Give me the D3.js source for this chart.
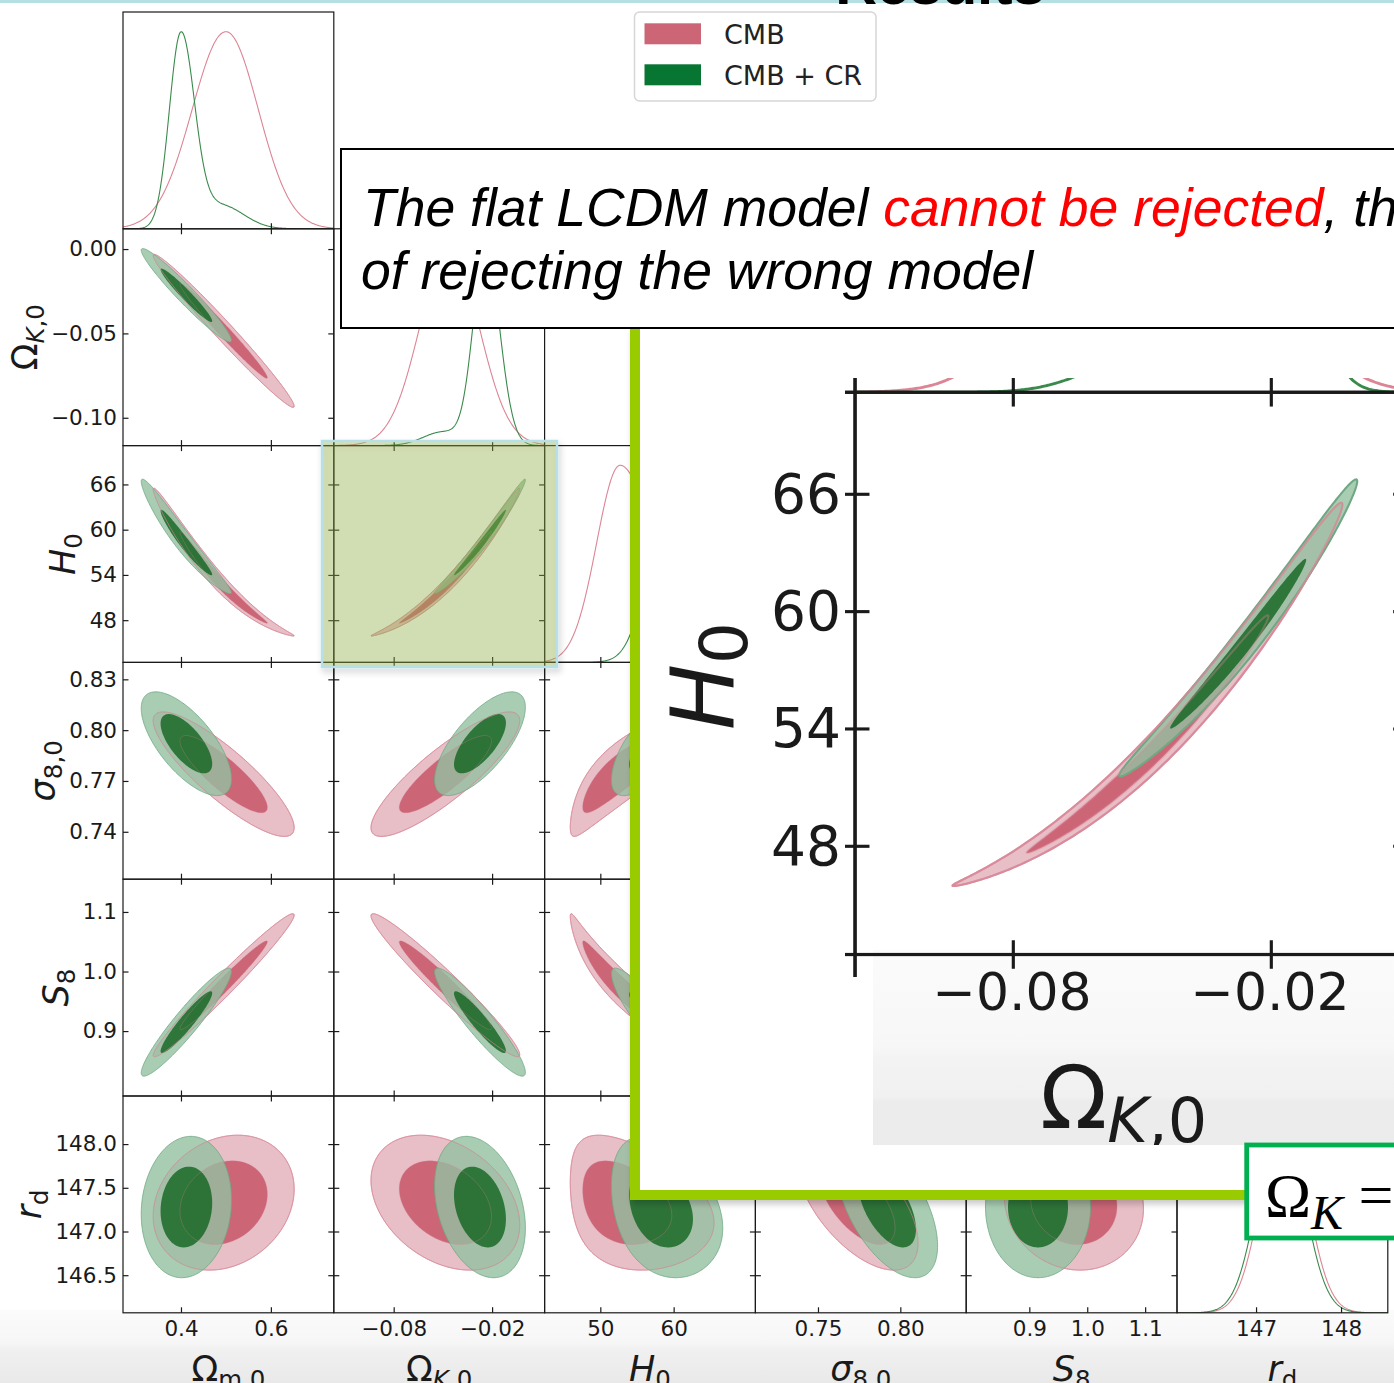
<!DOCTYPE html>
<html>
<head>
<meta charset="utf-8">
<script src="https://cdn.jsdelivr.net/npm/d3@7"></script>
<style>
  body { margin: 0; background: #fff; }
  svg { display: block; }
</style>
</head>
<body>
<svg id="chart"></svg>
<script>
const width = 1394, height = 1383;

// parameters of the triangle plot, in plotting order
const paramNames = ['Omega_m0', 'Omega_K0', 'H0', 'sigma8_0', 'S8', 'r_d'];
const limits = [[0.271, 0.740], [-0.1165, 0.012], [42.4, 71.15], [0.712, 0.840], [0.791, 1.155], [146.07, 148.55]];
const xTickValues = [[0.4, 0.6], [-0.08, -0.02], [50, 60], [0.75, 0.80], [0.9, 1.0, 1.1], [147, 148]];
const yTickValues = [[], [0.00, -0.05, -0.10], [66, 60, 54, 48], [0.83, 0.80, 0.77, 0.74], [1.1, 1.0, 0.9], [148.0, 147.5, 147.0, 146.5]];
const xTickFormats = ['.1f', '.2f', 'd', '.2f', '.1f', 'd'];
const yTickFormats = ['.1f', '.2f', 'd', '.2f', '.1f', '.1f'];
const labelMain = ['Ω', 'Ω', 'H', 'σ', 'S', 'r'];
const labelSub = ['m,0', 'K,0', '0', '8,0', '8', 'd'];

// chains
const chainNames = ['CMB', 'CMB + CR'];
const cmbMean = [0.495, -0.0485, 52.4, 0.774, 0.977, 147.33];
const cmbSd = [0.064, 0.0185, 4.0, 0.015, 0.049, 0.315];
const cmbCurv = [0, 0, 0.55, 0, 0, 0];
const cmbCorr = [
  [1, -0.985, -0.99, -0.86, 0.98, 0.2],
  [-0.985, 1, 0.994, 0.86, -0.97, -0.33],
  [-0.99, 0.994, 1, 0.85, -0.96, -0.3],
  [-0.86, 0.86, 0.85, 1, -0.75, -0.6],
  [0.98, -0.97, -0.96, -0.75, 1, -0.09],
  [0.2, -0.33, -0.3, -0.6, -0.09, 1]
];
const crMean = [0.412, -0.0274, 57.9, 0.792, 0.915, 147.28];
const crSd = [0.041, 0.0113, 3.1, 0.0125, 0.037, 0.33];
const crCurv = [0, 0, 0.2, 0, 0, 0];
const crCorr = [
  [1, -0.965, -0.97, -0.68, 0.94, 0.1],
  [-0.965, 1, 0.99, 0.7, -0.93, -0.3],
  [-0.97, 0.99, 1, 0.7, -0.9, -0.3],
  [-0.68, 0.7, 0.7, 1, -0.4, -0.55],
  [0.94, -0.93, -0.9, -0.4, 1, 0.0],
  [0.1, -0.3, -0.3, -0.55, 0.0, 1]
];
// 1D marginals: components [weight, mode, sdLeft, sdRight]
const cmbMarg = [
  [[1, 0.50, 0.075, 0.072]],
  [[1, -0.046, 0.018, 0.018]],
  [[1, 52.7, 3.2, 4.6]],
  [[1, 0.774, 0.015, 0.015]],
  [[1, 0.977, 0.049, 0.049]],
  [[1, 147.33, 0.265, 0.265]]
];
const crMarg = [
  [[1, 0.40, 0.026, 0.030], [0.12, 0.49, 0.045, 0.05]],
  [[1, -0.024, 0.0075, 0.0085], [0.07, -0.05, 0.012, 0.012]],
  [[1, 60.0, 3.0, 3.0]],
  [[1, 0.792, 0.0125, 0.0125]],
  [[1, 0.915, 0.037, 0.037]],
  [[1, 147.29, 0.265, 0.265]]
];
const cmbLevels = [1.52, 2.45];
const crLevels = [1.4, 2.45];

const chains = [
  { mean: cmbMean, sd: cmbSd, curv: cmbCurv, corr: cmbCorr, marg: cmbMarg, levels: cmbLevels,
    fills: ['#cc6677', '#e8bfc7'], opacity: [1, 1], stroke: '#dc97a5', line: '#dc8595', patch: '#cc6677' },
  { mean: crMean, sd: crSd, curv: crCurv, corr: crCorr, marg: crMarg, levels: crLevels,
    fills: ['#1e6b2a', '#94c0a0'], opacity: [0.88, 0.8], stroke: '#6fa883', line: '#3a8a4c', patch: '#077632' }
];

const ink = '#1a1a1a';
const gridLeft = 123, gridTop = 12, cw = 210.8, ch = 216.8;
const n = paramNames.length;

const xScale = i => d3.scaleLinear().domain(limits[i]).range([gridLeft + i * cw, gridLeft + (i + 1) * cw]);
const yScale = j => d3.scaleLinear().domain(limits[j]).range([gridTop + (j + 1) * ch, gridTop + j * ch]);

const svg = d3.select('#chart').attr('width', width).attr('height', height)
  .style('font-family', 'DejaVu Sans');
const defs = svg.append('defs');

const shadow = defs.append('filter').attr('id', 'shadow')
  .attr('x', '-10%').attr('y', '-10%').attr('width', '130%').attr('height', '130%');
shadow.append('feDropShadow').attr('dx', 2).attr('dy', 4).attr('stdDeviation', 3)
  .attr('flood-color', '#000').attr('flood-opacity', 0.22);

function addGrad(id, stops) {
  const gr = defs.append('linearGradient').attr('id', id)
    .attr('x1', 0).attr('y1', 0).attr('x2', 0).attr('y2', 1);
  stops.forEach(([o, c]) => gr.append('stop').attr('offset', o).attr('stop-color', c));
}
addGrad('band', [[0, '#fbfbfb'], [0.45, '#f6f6f6'], [0.55, '#f0f0f0'], [1, '#e9e9e9']]);
addGrad('band2', [[0, '#fbfbfb'], [0.5, '#f7f7f7'], [0.55, '#f3f3f3'], [0.75, '#f1f1f1'], [0.78, '#ececec'], [1, '#ececec']]);

for (let r = 0; r < n; r++) {
  for (let c = 0; c <= r; c++) {
    defs.append('clipPath').attr('id', `clip-${r}-${c}`).append('rect')
      .attr('x', gridLeft + c * cw).attr('y', gridTop + r * ch).attr('width', cw).attr('height', ch);
  }
}
defs.append('clipPath').attr('id', 'insetClip').append('rect')
  .attr('x', 845).attr('y', 378).attr('width', 560).attr('height', 599);

function density(comps, v) {
  return d3.sum(comps, ([w, m, sl, sr]) => {
    const s = v < m ? sl : sr;
    return w * Math.exp(-0.5 * ((v - m) / s) ** 2);
  });
}

function contourPoints(chn, i, j, rad) {
  const rho = chn.corr[i][j];
  return d3.range(0, 240).map(k => {
    const t = k / 240 * 2 * Math.PI;
    const zx = rad * Math.cos(t);
    const zy = rad * (rho * Math.cos(t) + Math.sqrt(1 - rho * rho) * Math.sin(t));
    return [chn.mean[i] + chn.sd[i] * zx + chn.curv[i] * zx * zx,
            chn.mean[j] + chn.sd[j] * zy + chn.curv[j] * zy * zy];
  });
}

function styleAxis(sel) {
  sel.attr('font-size', null).attr('font-family', null);
  sel.select('.domain').remove();
  sel.selectAll('.tick line').attr('stroke', ink).attr('stroke-width', 1.2);
  sel.selectAll('.tick text').attr('fill', ink).attr('font-size', 21.5).attr('font-family', 'DejaVu Sans');
}

function mathLabel(t, i, size) {
  t.append('tspan').text(labelMain[i]).attr('font-style', i < 2 ? 'normal' : 'italic');
  const subSize = size * 0.7, shift = size * 0.2;
  if (i === 1) {
    t.append('tspan').text('K').attr('font-style', 'italic').attr('font-size', subSize).attr('dy', shift);
    t.append('tspan').text(',0').attr('font-size', subSize);
  } else {
    t.append('tspan').text(labelSub[i]).attr('font-size', subSize).attr('dy', shift);
  }
}

const closed = d3.line().curve(d3.curveLinearClosed);
const open = d3.line();

function drawCorner(root, withText) {
  for (let r = 0; r < n; r++) {
    for (let c = 0; c <= r; c++) {
      const x0 = gridLeft + c * cw, y0 = gridTop + r * ch;
      const xs = xScale(c);
      const cell = root.append('g');
      const plot = cell.append('g').attr('clip-path', `url(#clip-${r}-${c})`);
      const showX = withText && r === n - 1, showY = withText && c === 0;

      if (r === c) {
        const ys = d3.scaleLinear().domain([0, 1.1]).range([y0 + ch, y0]);
        const grid = d3.range(0, 401).map(k => limits[c][0] + (limits[c][1] - limits[c][0]) * k / 400);
        chains.forEach(chn => {
          const vals = grid.map(v => density(chn.marg[c], v));
          const mx = d3.max(vals);
          plot.append('path')
            .attr('d', open(grid.map((v, k) => [xs(v), ys(vals[k] / mx)])))
            .attr('fill', 'none').attr('stroke', chn.line).attr('stroke-width', 1.1);
        });
      } else {
        const ys = yScale(r);
        const toPx = pts => closed(pts.map(([a, b]) => [xs(a), ys(b)]));
        chains.forEach(chn => {
          [1, 0].forEach(l => {
            plot.append('path')
              .attr('d', toPx(contourPoints(chn, c, r, chn.levels[l])))
              .attr('fill', chn.fills[l]).attr('fill-opacity', chn.opacity[l])
              .attr('stroke', l === 1 ? chn.stroke : 'none').attr('stroke-width', 0.8);
          });
        });
        // CMB outlines show through the CMB+CR fill
        [1, 0].forEach(l => {
          plot.append('path')
            .attr('d', toPx(contourPoints(chains[0], c, r, chains[0].levels[l])))
            .attr('fill', 'none').attr('stroke', '#d98898')
            .attr('stroke-opacity', l === 1 ? 0.8 : 0.35).attr('stroke-width', 0.8);
        });

        cell.append('g').attr('transform', `translate(0,${y0})`)
          .call(d3.axisTop(xs).tickValues(xTickValues[c]).tickSizeInner(-5.5).tickSizeOuter(0).tickFormat(''))
          .call(styleAxis);
        cell.append('g').attr('transform', `translate(${x0},0)`)
          .call(d3.axisLeft(ys).tickValues(yTickValues[r]).tickSizeInner(-5.5).tickSizeOuter(0).tickPadding(6)
            .tickFormat(showY ? d3.format(yTickFormats[r]) : ''))
          .call(styleAxis);
        cell.append('g').attr('transform', `translate(${x0 + cw},0)`)
          .call(d3.axisRight(ys).tickValues(yTickValues[r]).tickSizeInner(-5.5).tickSizeOuter(0).tickFormat(''))
          .call(styleAxis);
      }
      cell.append('g').attr('transform', `translate(0,${y0 + ch})`)
        .call(d3.axisBottom(xs).tickValues(xTickValues[c]).tickSizeInner(-5.5).tickSizeOuter(0).tickPadding(8)
          .tickFormat(showX ? d3.format(xTickFormats[c]) : ''))
        .call(styleAxis);
      if (!withText) cell.selectAll('.tick text').remove();

      cell.append('rect').attr('x', x0).attr('y', y0).attr('width', cw).attr('height', ch)
        .attr('fill', 'none').attr('stroke', ink).attr('stroke-width', 1.2);

      // y label for the first column
      if (showY && r > 0) {
        let maxW = 0;
        cell.selectAll('.tick text').each(function () {
          const w = this.getComputedTextLength();
          if (w > maxW) maxW = w;
        });
        const bx = gridLeft - 6 - maxW - 14.5;
        const t = root.append('text').attr('transform', `translate(${bx},${y0 + ch / 2}) rotate(-90)`)
          .attr('text-anchor', 'middle').attr('font-size', 35).attr('fill', ink);
        mathLabel(t, r, 35);
      }
      if (showX) {
        const t = root.append('text').attr('x', x0 + cw / 2).attr('y', 1381)
          .attr('text-anchor', 'middle').attr('font-size', 35).attr('fill', ink);
        mathLabel(t, c, 35);
      }
    }
  }
}

// background band
svg.append('rect').attr('x', 0).attr('y', 1310).attr('width', width).attr('height', height - 1310)
  .attr('fill', 'url(#band)');

const corner = svg.append('g');
drawCorner(corner, true);

// highlighted cell
svg.append('rect').attr('x', 322).attr('y', 441).attr('width', 235).attr('height', 226)
  .attr('fill', '#98b645').attr('fill-opacity', 0.36)
  .attr('stroke', '#b7dfe8').attr('stroke-width', 2.5)
  .attr('filter', 'url(#shadow)');

// legend
const legend = svg.append('g');
legend.append('rect').attr('x', 634.5).attr('y', 12).attr('width', 241.5).attr('height', 89).attr('rx', 5)
  .attr('fill', '#fff').attr('stroke', '#d6d6d6').attr('stroke-width', 1.5);
chainNames.forEach((name, k) => {
  legend.append('rect').attr('x', 644.5).attr('y', 23.3 + k * 41).attr('width', 56.5).attr('height', 21)
    .attr('fill', chains[k].patch);
  legend.append('text').attr('x', 724).attr('y', 44 + k * 41).attr('font-size', 27).attr('fill', '#222')
    .text(name);
});

// zoomed inset
const inset = svg.append('g');
inset.append('g').attr('filter', 'url(#shadow)')
  .append('path').attr('d', 'M630,328 H640 V1190 H1252 V1200 H630 Z').attr('fill', '#99cc00');
inset.append('rect').attr('x', 640).attr('y', 320).attr('width', 760).attr('height', 870).attr('fill', '#fff');
inset.append('path').attr('d', 'M630,320 H640 V1190 H1252 V1200 H630 Z').attr('fill', '#99cc00');
inset.append('rect').attr('x', 873).attr('y', 950).attr('width', 530).attr('height', 195).attr('fill', 'url(#band2)');

const ksx = xScale(1), hsy = yScale(2);
const isx = (1270 - 1012) / (ksx(-0.02) - ksx(-0.08));
const itx = 1012 - ksx(-0.08) * isx;
const isy = (845 - 493) / (hsy(48) - hsy(66));
const ity = 493 - hsy(66) * isy;
const insetClip = inset.append('g').attr('clip-path', 'url(#insetClip)');
drawCorner(insetClip.append('g').attr('transform', `translate(${itx},${ity}) scale(${isx},${isy})`), false);

yTickValues[2].forEach(v => {
  inset.append('text').attr('x', 841).attr('y', ity + isy * hsy(v)).attr('dy', '0.36em')
    .attr('text-anchor', 'end').attr('font-size', 55).attr('fill', ink).text(d3.format('d')(v));
});
xTickValues[1].forEach(v => {
  inset.append('text').attr('x', itx + isx * ksx(v)).attr('y', 1010)
    .attr('text-anchor', 'middle').attr('font-size', 52).attr('fill', ink).text(d3.format('.2f')(v));
});
const hl = inset.append('text').attr('transform', 'translate(733,676) rotate(-90)')
  .attr('text-anchor', 'middle').attr('font-size', 88).attr('fill', ink);
hl.append('tspan').text('H').attr('font-style', 'italic');
hl.append('tspan').text('0').attr('font-size', 66).attr('dy', 14);
const kl = inset.append('text').attr('x', 1040).attr('y', 1128).attr('font-size', 88).attr('fill', ink);
kl.append('tspan').text('Ω');
kl.append('tspan').text('K').attr('font-style', 'italic').attr('font-size', 62).attr('dy', 14);
kl.append('tspan').text(',0').attr('font-size', 62);
// the label is cut by the screenshot edge
inset.append('rect').attr('x', 873).attr('y', 1145).attr('width', 530).attr('height', 45).attr('fill', '#fff');

// statement box
svg.append('rect').attr('x', 341).attr('y', 149).attr('width', 1100).attr('height', 179)
  .attr('fill', '#fff').attr('stroke', '#000').attr('stroke-width', 2);
const msg = svg.append('g').attr('font-family', 'Liberation Sans').attr('font-style', 'italic')
  .attr('font-size', 53.5);
const l1 = msg.append('text').attr('x', 363).attr('y', 226).attr('fill', '#000');
l1.append('tspan').text('The flat LCDM model ');
l1.append('tspan').text('cannot be rejected').attr('fill', '#ff0000');
l1.append('tspan').text(', the probability');
msg.append('text').attr('x', 361).attr('y', 289).attr('fill', '#000').text('of rejecting the wrong model');

// Omega_K box
svg.append('rect').attr('x', 1246.7).attr('y', 1145).attr('width', 170).attr('height', 93)
  .attr('fill', '#fff').attr('stroke', '#00b050').attr('stroke-width', 4.8);
const okText = svg.append('text').attr('x', 1265).attr('y', 1216).attr('font-family', 'Liberation Serif')
  .attr('font-size', 62).attr('fill', '#000');
okText.append('tspan').text('Ω');
okText.append('tspan').text('K').attr('font-style', 'italic').attr('font-size', 48).attr('dy', 13);
okText.append('tspan').text(' =').attr('dy', -13);

// slide header remnants
svg.append('rect').attr('x', 0).attr('y', 0).attr('width', width).attr('height', 3).attr('fill', '#b5e0e3');
svg.append('text').attr('x', 940).attr('y', 4).attr('text-anchor', 'middle')
  .attr('font-family', 'Liberation Sans').attr('font-weight', 'bold').attr('font-size', 58)
  .attr('fill', '#000').text('Results');
</script>
</body>
</html>
